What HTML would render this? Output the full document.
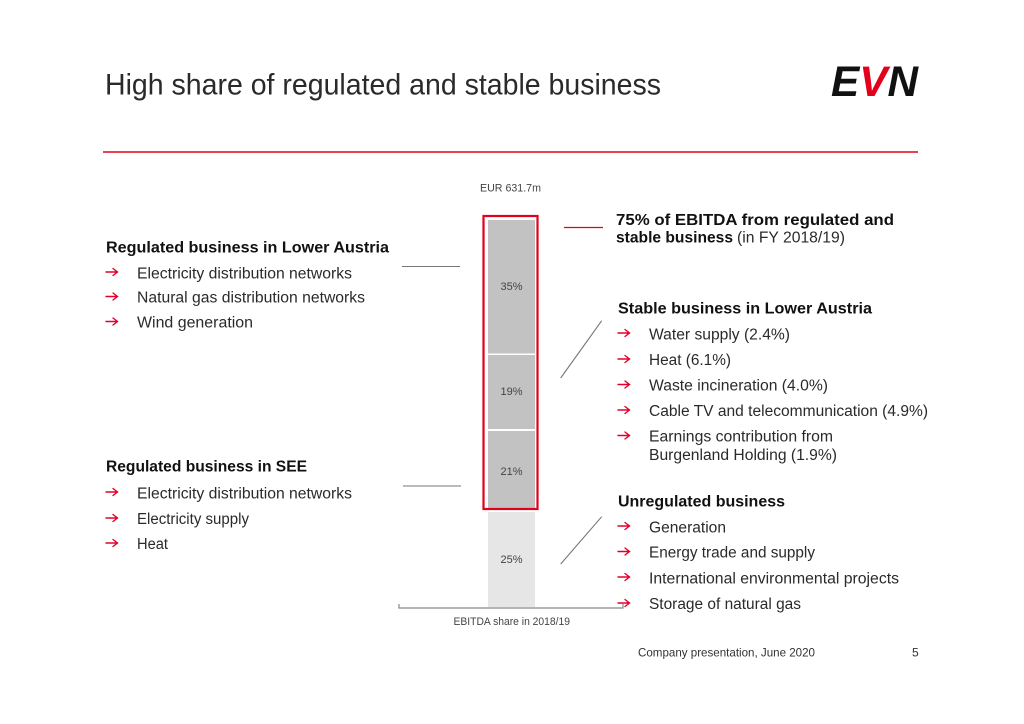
<!DOCTYPE html>
<html><head><meta charset="utf-8"><style>
html,body{margin:0;padding:0;background:#fff;}
svg{display:block;}
text{font-family:"Liberation Sans",sans-serif;fill:#1e1e1e;}
.b{font-weight:bold;font-size:15.5px;fill:#111;}
.n{font-size:15.5px;fill:#2a2a2a;}
.s{font-size:11px;fill:#444;}
</style></head><body>
<svg width="1024" height="724" viewBox="0 0 1024 724" xmlns="http://www.w3.org/2000/svg">
<defs>
<path id="ar" d="M0,0 L11,0 M7,-3.5 L11.5,0 L7,3.5" fill="none" stroke="#e4002b" stroke-width="1.4" stroke-linecap="round"/>
</defs>
<rect width="1024" height="724" fill="#fff"/>
<!-- title -->
<text x="105" y="94.5" font-size="30" fill="#2a2a2a" textLength="556" lengthAdjust="spacingAndGlyphs" style="fill:#2a2a2a">High share of regulated and stable business</text>
<!-- logo -->
<text x="831" y="96" font-size="43" font-weight="bold" font-style="italic" textLength="87" lengthAdjust="spacingAndGlyphs" style="fill:#111">E<tspan style="fill:#e2001a">V</tspan>N</text>
<line x1="103" y1="152" x2="918" y2="152" stroke="#e2001a" stroke-width="1.5"/>

<!-- bar -->
<text class="s" x="480" y="191.5" textLength="61" lengthAdjust="spacingAndGlyphs">EUR 631.7m</text>
<rect x="488" y="220" width="47" height="133.5" fill="#c2c2c2"/>
<rect x="488" y="355" width="47" height="74" fill="#c2c2c2"/>
<rect x="488" y="431" width="47" height="77" fill="#c2c2c2"/>
<rect x="488" y="512" width="47" height="95" fill="#e6e6e6"/>
<rect x="483.5" y="216" width="54" height="293" fill="none" stroke="#e2001a" stroke-width="2.2"/>
<text class="s" x="511.5" y="290" text-anchor="middle">35%</text>
<text class="s" x="511.5" y="395" text-anchor="middle">19%</text>
<text class="s" x="511.5" y="475" text-anchor="middle">21%</text>
<text class="s" x="511.5" y="563" text-anchor="middle">25%</text>
<path d="M399,604 L399,608 L623,608 L623,604" fill="none" stroke="#888" stroke-width="1.2"/>
<text class="s" x="453.5" y="625" textLength="116.5" lengthAdjust="spacingAndGlyphs">EBITDA share in 2018/19</text>

<!-- connector lines -->
<line x1="402" y1="266.5" x2="460" y2="266.5" stroke="#777" stroke-width="1.1"/>
<line x1="403" y1="486" x2="461" y2="486" stroke="#777" stroke-width="1.1"/>
<line x1="564" y1="227.5" x2="603" y2="227.5" stroke="#e2001a" stroke-width="1.2"/>
<line x1="601.7" y1="320.7" x2="560.7" y2="378" stroke="#777" stroke-width="1.1"/>
<line x1="601.7" y1="516.7" x2="560.7" y2="564" stroke="#777" stroke-width="1.1"/>

<!-- left block 1 -->
<text class="b" x="106" y="252.5" textLength="283" lengthAdjust="spacingAndGlyphs">Regulated business in Lower Austria</text>
<use href="#ar" x="106" y="272"/>
<text class="n" x="137" y="278.3" textLength="215" lengthAdjust="spacingAndGlyphs">Electricity distribution networks</text>
<use href="#ar" x="106" y="296.5"/>
<text class="n" x="137" y="302.7" textLength="228" lengthAdjust="spacingAndGlyphs">Natural gas distribution networks</text>
<use href="#ar" x="106" y="321.5"/>
<text class="n" x="137" y="327.7" textLength="116" lengthAdjust="spacingAndGlyphs">Wind generation</text>

<!-- left block 2 -->
<text class="b" x="106" y="471.7" textLength="201" lengthAdjust="spacingAndGlyphs">Regulated business in SEE</text>
<use href="#ar" x="106" y="492"/>
<text class="n" x="137" y="498.3" textLength="215" lengthAdjust="spacingAndGlyphs">Electricity distribution networks</text>
<use href="#ar" x="106" y="518"/>
<text class="n" x="137" y="524" textLength="112" lengthAdjust="spacingAndGlyphs">Electricity supply</text>
<use href="#ar" x="106" y="543"/>
<text class="n" x="137" y="549" textLength="31" lengthAdjust="spacingAndGlyphs">Heat</text>

<!-- right header -->
<text class="b" x="616" y="225" textLength="278" lengthAdjust="spacingAndGlyphs">75% of EBITDA from regulated and</text>
<text class="b" x="616" y="242.7" textLength="117" lengthAdjust="spacingAndGlyphs">stable business</text>
<text class="n" x="737" y="242.7" textLength="108" lengthAdjust="spacingAndGlyphs">(in FY 2018/19)</text>

<!-- stable business -->
<text class="b" x="618" y="313.3" textLength="254" lengthAdjust="spacingAndGlyphs">Stable business in Lower Austria</text>
<use href="#ar" x="618" y="333"/>
<text class="n" x="649" y="339.5" textLength="141" lengthAdjust="spacingAndGlyphs">Water supply (2.4%)</text>
<use href="#ar" x="618" y="359"/>
<text class="n" x="649" y="365" textLength="82" lengthAdjust="spacingAndGlyphs">Heat (6.1%)</text>
<use href="#ar" x="618" y="384.5"/>
<text class="n" x="649" y="390.7" textLength="179" lengthAdjust="spacingAndGlyphs">Waste incineration (4.0%)</text>
<use href="#ar" x="618" y="410"/>
<text class="n" x="649" y="416" textLength="279" lengthAdjust="spacingAndGlyphs">Cable TV and telecommunication (4.9%)</text>
<use href="#ar" x="618" y="435.5"/>
<text class="n" x="649" y="441.7" textLength="184" lengthAdjust="spacingAndGlyphs">Earnings contribution from</text>
<text class="n" x="649" y="460" textLength="188" lengthAdjust="spacingAndGlyphs">Burgenland Holding (1.9%)</text>

<!-- unregulated -->
<text class="b" x="618" y="506.7" textLength="167" lengthAdjust="spacingAndGlyphs">Unregulated business</text>
<use href="#ar" x="618" y="526"/>
<text class="n" x="649" y="532.3" textLength="77" lengthAdjust="spacingAndGlyphs">Generation</text>
<use href="#ar" x="618" y="551.5"/>
<text class="n" x="649" y="557.3" textLength="166" lengthAdjust="spacingAndGlyphs">Energy trade and supply</text>
<use href="#ar" x="618" y="577"/>
<text class="n" x="649" y="583.3" textLength="250" lengthAdjust="spacingAndGlyphs">International environmental projects</text>
<use href="#ar" x="618" y="603"/>
<text class="n" x="649" y="609" textLength="152" lengthAdjust="spacingAndGlyphs">Storage of natural gas</text>

<!-- footer -->
<text x="638" y="656.7" font-size="12" textLength="177" lengthAdjust="spacingAndGlyphs" style="fill:#333">Company presentation, June 2020</text>
<text x="912" y="656.7" font-size="12" style="fill:#333">5</text>
</svg>
</body></html>
